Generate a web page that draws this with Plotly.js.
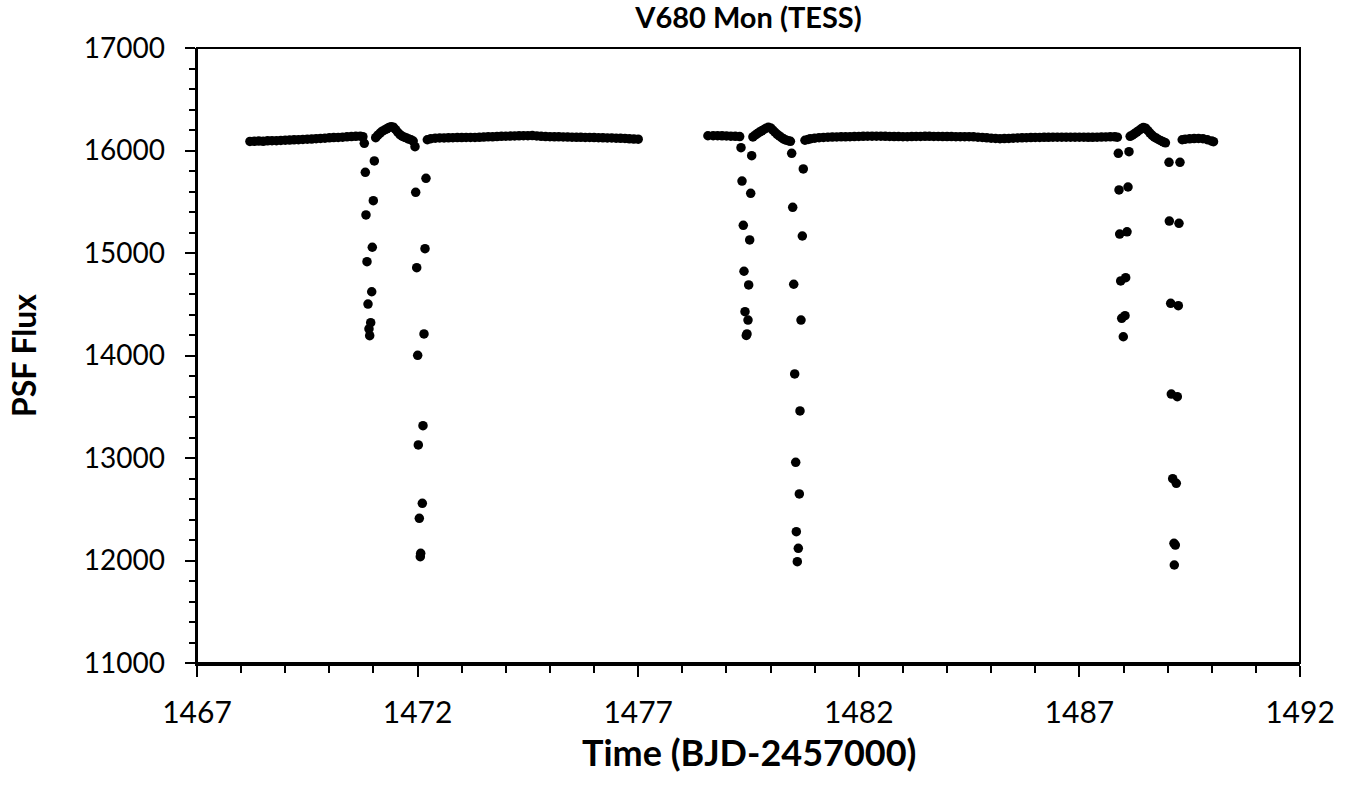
<!DOCTYPE html>
<html>
<head>
<meta charset="utf-8">
<script src="https://cdn.plot.ly/plotly-3.0.1.min.js"></script>
<style>
html,body{margin:0;padding:0;background:#fff;}
#chart{width:1370px;height:785px;}
</style>
</head>
<body>
<div id="chart"></div>
<script>
// ---- Out-of-eclipse baseline, segment 1 (sector first orbit) ----
var base1aT = [1468.2,1468.3,1468.4,1468.5,1468.6,1468.7,1468.8,1468.9,1469.0,1469.1,1469.2,1469.3,1469.4,1469.5,1469.6,1469.7,1469.8,1469.9,1470.0,1470.1,1470.2,1470.3,1470.4,1470.5,1470.6,1470.7,1470.76];
var base1aF = [16088,16090,16092,16090,16094,16096,16095,16098,16100,16102,16104,16106,16108,16110,16112,16115,16118,16120,16124,16126,16128,16130,16133,16136,16138,16140,16135];

var bump1T = [1471.05,1471.10,1471.15,1471.20,1471.25,1471.30,1471.35,1471.40,1471.45,1471.50,1471.55,1471.60,1471.65,1471.70,1471.75,1471.80,1471.85,1471.90];
var bump1F = [16125,16150,16170,16188,16200,16212,16225,16232,16228,16205,16178,16155,16140,16130,16122,16112,16105,16092];

var base1bT = [1472.22,1472.3,1472.4,1472.5,1472.6,1472.7,1472.8,1472.9,1473.0,1473.1,1473.2,1473.3,1473.4,1473.5,1473.6,1473.7,1473.8,1473.9,1474.0,1474.1,1474.2,1474.3,1474.4,1474.5,1474.6,1474.7,1474.8,1474.9,1475.0,1475.1,1475.2,1475.3,1475.4,1475.5,1475.6,1475.7,1475.8,1475.9,1476.0,1476.1,1476.2,1476.3,1476.4,1476.5,1476.6,1476.7,1476.8,1476.9,1477.0];
var base1bF = [16105,16115,16120,16122,16123,16124,16125,16126,16126,16127,16128,16128,16129,16131,16133,16134,16136,16138,16140,16141,16142,16143,16144,16145,16146,16142,16138,16136,16135,16134,16133,16132,16131,16130,16129,16129,16128,16127,16126,16125,16124,16123,16122,16120,16119,16118,16114,16112,16110];

// ---- Baseline, segment 2 (second orbit) ----
var base2aT = [1478.58,1478.7,1478.8,1478.9,1479.0,1479.1,1479.2,1479.3];
var base2aF = [16144,16145,16144,16143,16142,16140,16138,16136];

var bump2T = [1479.60,1479.65,1479.70,1479.75,1479.80,1479.85,1479.90,1479.95,1480.00,1480.05,1480.10,1480.15,1480.20,1480.25,1480.30,1480.35,1480.40,1480.45];
var bump2F = [16132,16150,16165,16180,16192,16205,16218,16226,16220,16200,16178,16158,16142,16125,16112,16102,16096,16090];

var base2bT = [1480.78,1480.85,1480.9,1481.0,1481.1,1481.2,1481.3,1481.4,1481.5,1481.6,1481.7,1481.8,1481.9,1482.0,1482.1,1482.2,1482.3,1482.4,1482.5,1482.6,1482.7,1482.8,1482.9,1483.0,1483.1,1483.2,1483.3,1483.4,1483.5,1483.6,1483.7,1483.8,1483.9,1484.0,1484.1,1484.2,1484.3,1484.4,1484.5,1484.6,1484.7,1484.8,1484.9,1485.0,1485.1,1485.2,1485.3,1485.4,1485.5,1485.6,1485.7,1485.8,1485.9,1486.0,1486.1,1486.2,1486.3,1486.4,1486.5,1486.6,1486.7,1486.8,1486.9,1487.0,1487.1,1487.2,1487.3,1487.4,1487.5,1487.6,1487.7,1487.8,1487.86];
var base2bF = [16100,16108,16114,16120,16125,16128,16130,16131,16132,16133,16134,16135,16136,16137,16138,16139,16140,16140,16139,16138,16137,16136,16136,16135,16135,16136,16137,16137,16138,16138,16137,16137,16136,16136,16136,16135,16135,16135,16135,16133,16130,16127,16124,16120,16117,16115,16116,16118,16120,16122,16124,16125,16126,16127,16128,16129,16129,16130,16130,16130,16130,16130,16130,16130,16130,16129,16129,16130,16131,16132,16133,16134,16130];

var bump3T = [1488.15,1488.20,1488.25,1488.30,1488.35,1488.40,1488.45,1488.50,1488.55,1488.60,1488.65,1488.70,1488.75,1488.80,1488.85,1488.90,1488.95];
var bump3F = [16138,16150,16165,16180,16195,16212,16225,16218,16195,16170,16148,16130,16119,16105,16095,16085,16075];

var base2cT = [1489.33,1489.4,1489.5,1489.6,1489.7,1489.8,1489.9,1490.0,1490.04];
var base2cF = [16105,16110,16114,16116,16118,16115,16105,16092,16086];

// ---- Eclipses ----
var eclA_T = [1470.792,1470.815,1470.830,1470.853,1470.876,1470.898,1470.914,1470.937,1470.960,1470.973,1470.996,1471.019];
var eclA_F = [16070,15787,15371,14915,14502,14259,14193,14320,14622,15056,15510,15898];

var eclB_T = [1471.941,1471.957,1471.980,1472.002,1472.016,1472.039,1472.061,1472.070,1472.107,1472.122,1472.145,1472.168,1472.190];
var eclB_F = [16037,15592,14857,14002,13127,12412,12037,12070,12558,13315,14210,15042,15729];

var eclC_T = [1479.330,1479.353,1479.382,1479.398,1479.421,1479.450,1479.466,1479.489,1479.504,1479.527,1479.550,1479.572];
var eclC_F = [16027,15702,15270,14822,14428,14195,14210,14346,14688,15127,15582,15949];

var eclD_T = [1480.479,1480.502,1480.525,1480.547,1480.570,1480.584,1480.606,1480.629,1480.652,1480.667,1480.690,1480.720,1480.742];
var eclD_F = [15973,15446,14695,13820,12958,12281,11988,12119,12649,13459,14346,15166,15820];

var eclE_T = [1487.882,1487.898,1487.913,1487.936,1487.959,1487.995,1488.034,1488.049,1488.079,1488.102,1488.124];
var eclE_F = [15973,15615,15185,14727,14363,14183,14388,14759,15207,15644,15988];

var eclF_T = [1489.031,1489.038,1489.069,1489.083,1489.115,1489.144,1489.151,1489.174,1489.196,1489.219,1489.242,1489.257,1489.280];
var eclF_F = [15885,15312,14509,13624,12798,12168,11956,12151,12753,13598,14486,15290,15885];

var xTickVals = [1467,1472,1477,1482,1487,1492];
var yTickVals = [11000,12000,13000,14000,15000,16000,17000];

var T = [].concat(base1aT, eclA_T, bump1T, eclB_T, base1bT, base2aT, eclC_T, bump2T, eclD_T, base2bT, eclE_T, bump3T, eclF_T, base2cT);
var F = [].concat(base1aF, eclA_F, bump1F, eclB_F, base1bF, base2aF, eclC_F, bump2F, eclD_F, base2bF, eclE_F, bump3F, eclF_F, base2cF);

var FONT = 'Lato, "Open Sans", sans-serif';

var trace = {
  x: T, y: F, type: 'scatter', mode: 'markers',
  marker: {color: '#000000', size: 9.5, line: {width: 0}},
  hoverinfo: 'x+y', showlegend: false
};

var layout = {
  width: 1370, height: 785,
  margin: {l: 197, r: 70, t: 48, b: 122, pad: 0},
  paper_bgcolor: '#ffffff', plot_bgcolor: '#ffffff',
  font: {family: FONT, color: '#000000'},
  title: {text: '<b>V680 Mon (TESS)</b>', font: {family: FONT, size: 29, weight: 'bold', color: '#000'},
          x: 0.5, xref: 'paper', xanchor: 'center', y: 0.977, yref: 'container', yanchor: 'middle'},
  xaxis: {
    range: [1467, 1492], tickvals: xTickVals, ticktext: xTickVals.map(String),
    showgrid: false, zeroline: false,
    showline: true, linecolor: '#000', linewidth: 2.5,
    ticks: 'outside', ticklen: 11, tickwidth: 2, tickcolor: '#000',
    minor: {dtick: 1, tick0: 1467, ticks: 'outside', ticklen: 7, tickwidth: 2, tickcolor: '#000', showgrid: false},
    tickfont: {family: FONT, size: 30, color: '#000'},
    ticklabelstandoff: 10
  },
  yaxis: {
    range: [11000, 17000], tickvals: yTickVals, ticktext: yTickVals.map(String),
    showgrid: false, zeroline: false,
    showline: true, linecolor: '#000', linewidth: 2.5,
    ticks: 'outside', ticklen: 10, tickwidth: 2, tickcolor: '#000',
    minor: {dtick: 200, tick0: 11000, ticks: 'outside', ticklen: 6, tickwidth: 2, tickcolor: '#000', showgrid: false},
    tickfont: {family: FONT, size: 28, color: '#000'},
    ticklabelstandoff: 14,
    title: {text: '<b>PSF Flux</b>', font: {family: FONT, size: 32, color: '#000'}, standoff: 38}
  },
  annotations: [{
    text: '<b>Time (BJD-2457000)</b>', xref: 'paper', yref: 'paper',
    x: 0.5, y: -0.145, xanchor: 'center', yanchor: 'middle', showarrow: false,
    font: {family: FONT, size: 36, color: '#000'}
  }],
  shapes: [{type: 'rect', xref: 'paper', yref: 'paper', x0: 0, x1: 1, y0: 0, y1: 1,
            line: {color: '#000', width: 2}, fillcolor: 'rgba(0,0,0,0)', layer: 'below'}]
};

Plotly.newPlot('chart', [trace], layout, {displayModeBar: false, staticPlot: true});
</script>
</body>
</html>
